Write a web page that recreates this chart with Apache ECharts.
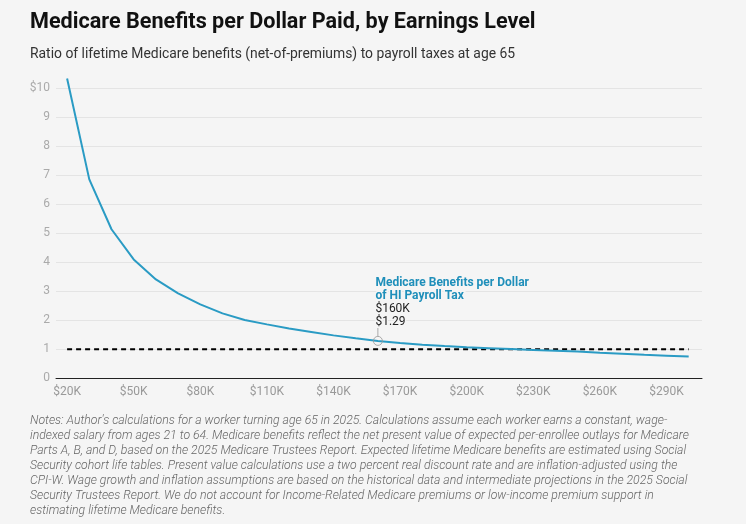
<!DOCTYPE html>
<html>
<head>
<meta charset="utf-8">
<script src="https://cdn.jsdelivr.net/npm/echarts@6/dist/echarts.min.js"></script>
<style>
html,body{margin:0;padding:0;background:#f5f5f5;}
#main{width:746px;height:524px;}
</style>
</head>
<body>
<div id="main"></div>
<script>
// earnings level, $K
var earnings = [20,30,40,50,60,70,80,90,100,110,120,130,140,150,160,170,180,190,200,210,220,230,240,250,260,270,280,290,300];
// benefits per dollar of HI payroll tax
var ratio = [10.34,6.86,5.14,4.10,3.41,2.93,2.55,2.24,2.01,1.86,1.72,1.60,1.48,1.38,1.29,1.22,1.16,1.11,1.07,1.04,1.01,0.98,0.95,0.92,0.88,0.85,0.81,0.78,0.75];
// break-even line ($1 of benefits per $1 paid)
var parityEarnings = [20,300];
var parityRatio = [1,1];
var xTicks = [20,50,80,110,140,170,200,230,260,290];
var yTicks = [0,1,2,3,4,5,6,7,8,9,10];
var highlight = [160,1.29];

var titleText = 'Medicare Benefits per Dollar Paid, by Earnings Level';
var subtitleText = 'Ratio of lifetime Medicare benefits (net-of-premiums) to payroll taxes at age 65';
var seriesName = 'Medicare Benefits per Dollar\nof HI Payroll Tax';
var notesLines = [
	"Notes: Author's calculations for a worker turning age 65 in 2025. Calculations assume each worker earns a constant, wage-",
	"indexed salary from ages 21 to 64. Medicare benefits reflect the net present value of expected per-enrollee outlays for Medicare",
	"Parts A, B, and D, based on the 2025 Medicare Trustees Report. Expected lifetime Medicare benefits are estimated using Social",
	"Security cohort life tables. Present value calculations use a two percent real discount rate and are inflation-adjusted using the",
	"CPI-W. Wage growth and inflation assumptions are based on the historical data and intermediate projections in the 2025 Social",
	"Security Trustees Report. We do not account for Income-Related Medicare premiums or low-income premium support in",
	"estimating lifetime Medicare benefits."
];

var FONT = 'Roboto, "Noto Sans", sans-serif';
var BLUE = '#2a9bc4';

function zip(a, b){
	var out = [];
	for (var i = 0; i < a.length; i++) out.push([a[i], b[i]]);
	return out;
}

var myChart = echarts.init(document.getElementById('main'), null, {renderer:'canvas'});

var option = {
	backgroundColor:'#f5f5f5',
	animation:false,
	textStyle:{fontFamily:FONT},
	grid:{left:56, right:44, top:88.3, bottom:145.7},
	xAxis:{
		type:'value',
		min:15, max:306,
		splitLine:{show:false},
		axisTick:{show:false},
		axisLine:{lineStyle:{color:'#222', width:1}},
		axisLabel:{
			customValues:xTicks,
			color:'#999', fontSize:12, margin:8,
			formatter:function(v){ return '$' + v + 'K'; }
		}
	},
	yAxis:{
		type:'value',
		min:0, max:10, interval:1,
		axisLine:{show:false},
		axisTick:{show:false},
		splitLine:{lineStyle:{color:'#e4e4e4', width:1}},
		axisLabel:{
			customValues:yTicks,
			color:'#aaa', fontSize:12, margin:6,
			formatter:function(v){ return v === 10 ? '$10' : String(v); }
		}
	},
	series:[
		{
			name:'parity',
			type:'line',
			data:zip(parityEarnings, parityRatio),
			symbol:'none',
			lineStyle:{color:'#000', width:2, type:[5,4]},
			z:2
		},
		{
			name:seriesName,
			type:'line',
			data:zip(earnings, ratio),
			symbol:'none',
			clip:false,
			lineStyle:{color:BLUE, width:2},
			z:3
		},
		{
			name:'highlight',
			type:'scatter',
			data:[highlight],
			symbol:'circle',
			symbolSize:9,
			itemStyle:{color:'rgba(0,0,0,0)', borderColor:'#999', borderWidth:1},
			z:4
		}
	]
};
myChart.setOption(option);

//标题、注释和高亮点标注
function drawTexts(){
	var p = myChart.convertToPixel({gridIndex:0}, highlight);
	var graphics = [
		{type:'text', left:30, top:12, style:{text:titleText, font:'bold 21.6px ' + FONT, fill:'#111'}},
		{type:'text', left:30, top:48, style:{text:subtitleText, font:'13.9px ' + FONT, fill:'#333'}},
		{type:'text', left:30, top:413.5, style:{text:notesLines.join('\n'), font:'italic 300 12.25px ' + FONT, fill:'#666', lineHeight:15}},
		{type:'line', shape:{x1:p[0], y1:p[1] - 13, x2:p[0], y2:p[1] - 4.5}, style:{stroke:'#aaa', lineWidth:1}},
		{type:'text', x:p[0] - 2.5, y:p[1] - 64, style:{
			text:seriesName, font:'bold 12px ' + FONT, fill:'#1f8fba', lineHeight:12.5,
			stroke:'#f5f5f5', lineWidth:3
		}},
		{type:'text', x:p[0] - 2.5, y:p[1] - 38, style:{
			text:'$' + highlight[0] + 'K\n$' + highlight[1].toFixed(2), font:'12px ' + FONT, fill:'#222', lineHeight:12.5,
			stroke:'#f5f5f5', lineWidth:3
		}}
	];
	myChart.setOption({graphic:graphics});
}
drawTexts();
</script>
</body>
</html>
